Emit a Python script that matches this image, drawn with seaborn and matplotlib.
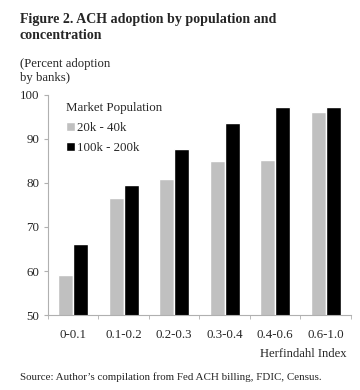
import pandas as pd
import matplotlib.pyplot as plt
import seaborn as sns

# Herfindahl index buckets and adoption rates (percent of banks)
categories = ["0-0.1", "0.1-0.2", "0.2-0.3", "0.3-0.4", "0.4-0.6", "0.6-1.0"]
small_pop = [59.0, 76.6, 81.0, 85.0, 85.3, 96.0]
large_pop = [66.1, 79.6, 87.8, 93.6, 97.3, 97.3]
series_names = ["20k - 40k", "100k - 200k"]

df = pd.DataFrame({
    "bucket": categories * 2,
    "pct": small_pop + large_pop,
    "pop": [series_names[0]] * 6 + [series_names[1]] * 6,
})

sns.set_style("white")
plt.rcParams["font.family"] = ["Liberation Serif", "DejaVu Serif"]

fig = plt.figure(figsize=(3.6, 3.9), dpi=100)
ax = fig.add_axes([0.133, 0.192, 0.842, 0.565])

sns.barplot(data=df, x="bucket", y="pct", hue="pop", order=categories,
            hue_order=series_names, palette=["#c0c0c0", "#000000"],
            width=0.6, gap=0, ax=ax, legend=True)

ax.set_ylim(50, 100)
ax.set_yticks([50, 60, 70, 80, 90, 100])
ax.set_xlim(-0.5, 5.5)
ax.set_xlabel("")
ax.set_ylabel("")
for s in ["top", "right"]:
    ax.spines[s].set_visible(False)
for s in ["left", "bottom"]:
    ax.spines[s].set_color("#b0b0b0")
    ax.spines[s].set_linewidth(0.8)
ax.tick_params(axis="y", length=3, color="#b0b0b0", labelsize=9.3, pad=3, left=True)
ax.tick_params(axis="x", length=0, labelsize=9.3, pad=10)
# tick marks between categories on x axis
ax.set_xticks([i + 0.5 for i in range(-1, 6)], minor=True)
ax.tick_params(axis="x", which="minor", length=3, color="#b0b0b0", bottom=True)

leg = ax.legend(title="Market Population", loc="upper left", frameon=False,
                fontsize=9.3, title_fontsize=9.3, handlelength=0.7,
                handleheight=0.7, handletextpad=0.2, labelspacing=0.6,
                bbox_to_anchor=(0.02, 1.02))
leg._legend_box.align = "left"

fig.text(0.055, 0.941, "Figure 2. ACH adoption by population and",
         fontsize=10.1, fontweight="bold", va="baseline", ha="left")
fig.text(0.055, 0.9, "concentration",
         fontsize=10.1, fontweight="bold", va="baseline", ha="left")
fig.text(0.055, 0.828, "(Percent adoption", fontsize=9.2, va="baseline", ha="left")
fig.text(0.055, 0.792, "by banks)", fontsize=9.2, va="baseline", ha="left")
fig.text(0.964, 0.0846, "Herfindahl Index", fontsize=9.1, ha="right", va="baseline")
fig.text(0.055, 0.0256, "Source: Author\u2019s compilation from Fed ACH billing, FDIC, Census.",
         fontsize=7.9, ha="left", va="baseline")

fig.savefig("out.png", dpi=100)
